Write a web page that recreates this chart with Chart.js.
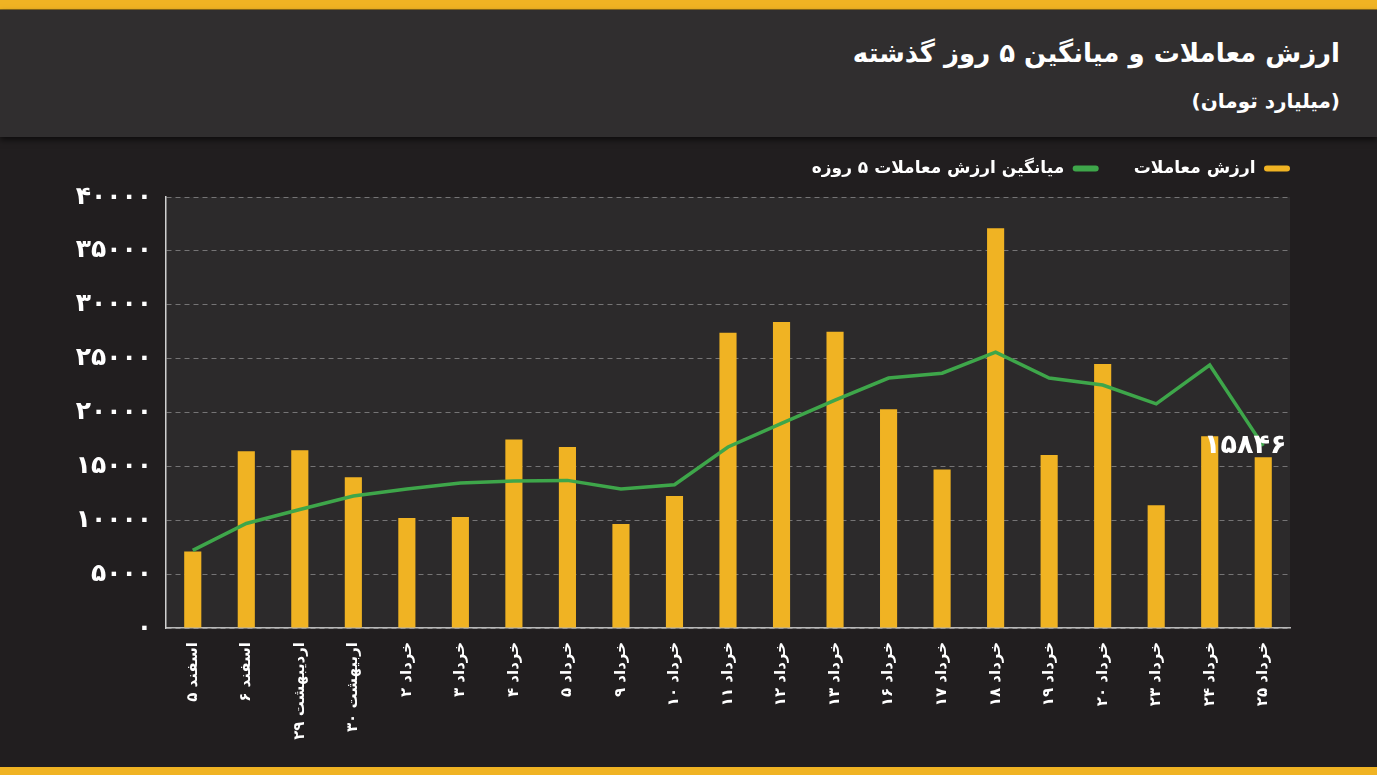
<!DOCTYPE html>
<html lang="fa">
<head>
<meta charset="utf-8">
<script src="https://cdn.jsdelivr.net/npm/chart.js@4.4.1/dist/chart.umd.min.js"></script>
<style>
  html, body { margin: 0; padding: 0; background: #211e1f; }
  #page { position: relative; width: 1377px; height: 775px; overflow: hidden; background: #211e1f; font-family: "DejaVu Sans", sans-serif; }
  #stripeTop { position: absolute; left: 0; top: 0; width: 1377px; height: 10px; background: #f0b323; border-bottom: 1px solid #8a6a1c; box-sizing: border-box; }
  #header { position: absolute; left: 0; top: 10px; width: 1377px; height: 127px; background: #302e2f; box-shadow: 0 3px 6px rgba(0,0,0,0.6); }
  #title { position: absolute; right: 37px; top: 28px; color: #fff; font-weight: bold; font-size: 26px; direction: rtl; white-space: nowrap; }
  #subtitle { position: absolute; right: 37px; top: 79px; color: #fff; font-weight: bold; font-size: 20px; direction: rtl; white-space: nowrap; }
  #body { position: absolute; left: 0; top: 137px; width: 1377px; height: 630px; }
  #stripeBottom { position: absolute; left: 0; top: 767px; width: 1377px; height: 8px; background: #f0b323; }
</style>
</head>
<body>
<div id="page">
  <div id="stripeTop"></div>
  <div id="header">
    <div id="title">ارزش معاملات و میانگین ۵ روز گذشته</div>
    <div id="subtitle">(میلیارد تومان)</div>
  </div>
  <div id="body"><canvas id="chart" width="1377" height="630"></canvas></div>
  <div id="stripeBottom"></div>
</div>
<script>
// --- DATA ---
const dayLabels = [
    'اسفند ۵', 'اسفند ۶', 'اردیبهشت ۲۹', 'اربیهشت ۳۰', 'خرداد ۲', 'خرداد ۳', 'خرداد ۴',
    'خرداد ۵', 'خرداد ۹', 'خرداد ۱۰', 'خرداد ۱۱', 'خرداد ۱۲', 'خرداد ۱۳', 'خرداد ۱۶',
    'خرداد ۱۷', 'خرداد ۱۸', 'خرداد ۱۹', 'خرداد ۲۰', 'خرداد ۲۳', 'خرداد ۲۴', 'خرداد ۲۵'
];
const tradeValues = [
    7100, 16400, 16500, 14000, 10200, 10300, 17500,
    16800, 9650, 12250, 27400, 28400, 27500, 20300,
    14700, 37100, 16050, 24500, 11400, 17800, 15846
];
const avg5Values = [
    7200, 9700, 11000, 12250, 12900, 13450, 13650,
    13700, 12900, 13300, 16800, 19000, 21150, 23200,
    23650, 25600, 23200, 22550, 20800, 24400, 16900
];
const yTicks = [0, 5000, 10000, 15000, 20000, 25000, 30000, 35000, 40000];
const seriesNames = ['ارزش معاملات', 'میانگین ارزش معاملات ۵ روزه'];

const FONT = '"DejaVu Sans", sans-serif';
const YELLOW = '#f0b323';
const GREEN = '#3ea64a';
const LEGEND_GAP = 35;

function toFaDigits(n) {
    return String(n).replace(/\d/g, d => '۰۱۲۳۴۵۶۷۸۹'[d]);
}

// plot background behind the grid
const plotBg = {
    id: 'plotBg',
    beforeDraw(chart) {
        const { ctx, chartArea: a } = chart;
        ctx.save();
        ctx.fillStyle = '#2c2a2b';
        ctx.fillRect(a.left, a.top, a.right - a.left, a.bottom - a.top);
        ctx.restore();
    }
};

// legend: wide item gap, but keep its height and right edge in place
const legendFix = {
    id: 'legendFix',
    afterInit(chart) {
        const lg = chart.legend;
        const fit = lg.fit;
        lg.fit = function () { fit.call(this); this.height = 72; };
    },
    afterLayout(chart) {
        chart.legend.left += LEGEND_GAP;
        chart.legend.right += LEGEND_GAP;
    }
};

// value label for the last bar
const lastValue = {
    id: 'lastValue',
    afterDatasetsDraw(chart) {
        const meta = chart.getDatasetMeta(0);
        const i = tradeValues.length - 1;
        const el = meta.data[i];
        const ctx = chart.ctx;
        ctx.save();
        ctx.font = 'bold 27px ' + FONT;
        ctx.fillStyle = '#ffffff';
        ctx.textAlign = 'center';
        ctx.textBaseline = 'bottom';
        ctx.fillText(toFaDigits(tradeValues[i]), el.x - 18, el.y + 2);
        ctx.restore();
    }
};

const ctx = document.getElementById('chart').getContext('2d');
const chart = new Chart(ctx, {
    data: {
        labels: dayLabels,
        datasets: [{
            type: 'bar',
            label: seriesNames[0],
            data: tradeValues,
            backgroundColor: YELLOW,
            borderWidth: 0,
            barPercentage: 0.32,
            categoryPercentage: 1,
            order: 1
        }, {
            type: 'line',
            label: seriesNames[1],
            data: avg5Values,
            borderColor: GREEN,
            backgroundColor: GREEN,
            borderWidth: 3.5,
            pointRadius: 0,
            tension: 0,
            order: 0
        }]
    },
    options: {
        responsive: false,
        animation: false,
        devicePixelRatio: 1,
        layout: { padding: { top: -12, right: 87, left: 0, bottom: 0 } },
        plugins: {
            legend: {
                align: 'start',
                rtl: true,
                textDirection: 'rtl',
                labels: {
                    color: '#ffffff',
                    font: { family: FONT, size: 17, weight: 'bold' },
                    boxWidth: 26,
                    boxHeight: 6,
                    padding: LEGEND_GAP,
                    sort: (a, b) => a.datasetIndex - b.datasetIndex,
                    generateLabels(chart) {
                        return chart.data.datasets.map((ds, i) => ({
                            text: ds.label,
                            fillStyle: i === 0 ? YELLOW : GREEN,
                            strokeStyle: i === 0 ? YELLOW : GREEN,
                            lineWidth: 0,
                            borderRadius: 3,
                            fontColor: '#ffffff',
                            datasetIndex: i
                        }));
                    }
                }
            },
            tooltip: { enabled: false }
        },
        scales: {
            x: {
                grid: { display: false },
                border: { color: '#b9b9b9', width: 1.5 },
                ticks: {
                    color: '#ffffff',
                    font: { family: FONT, size: 15, weight: 'bold' },
                    minRotation: 90,
                    maxRotation: 90,
                    autoSkip: false,
                    padding: 6
                },
                afterFit(scale) { scale.height = 139; }
            },
            y: {
                min: 0,
                max: 40000,
                afterBuildTicks(scale) { scale.ticks = yTicks.map(v => ({ value: v })); },
                grid: { color: 'rgba(255,255,255,0.35)', lineWidth: 1, drawTicks: false },
                border: { color: '#d0d0d0', width: 1.5, dash: [5, 4], dashOffset: 0 },
                ticks: {
                    color: '#ffffff',
                    font: { family: FONT, size: 25, weight: 'bold' },
                    padding: 14,
                    callback: v => toFaDigits(v)
                },
                afterFit(scale) { scale.width = 166; }
            }
        }
    },
    plugins: [plotBg, legendFix, lastValue]
});
</script>
</body>
</html>
